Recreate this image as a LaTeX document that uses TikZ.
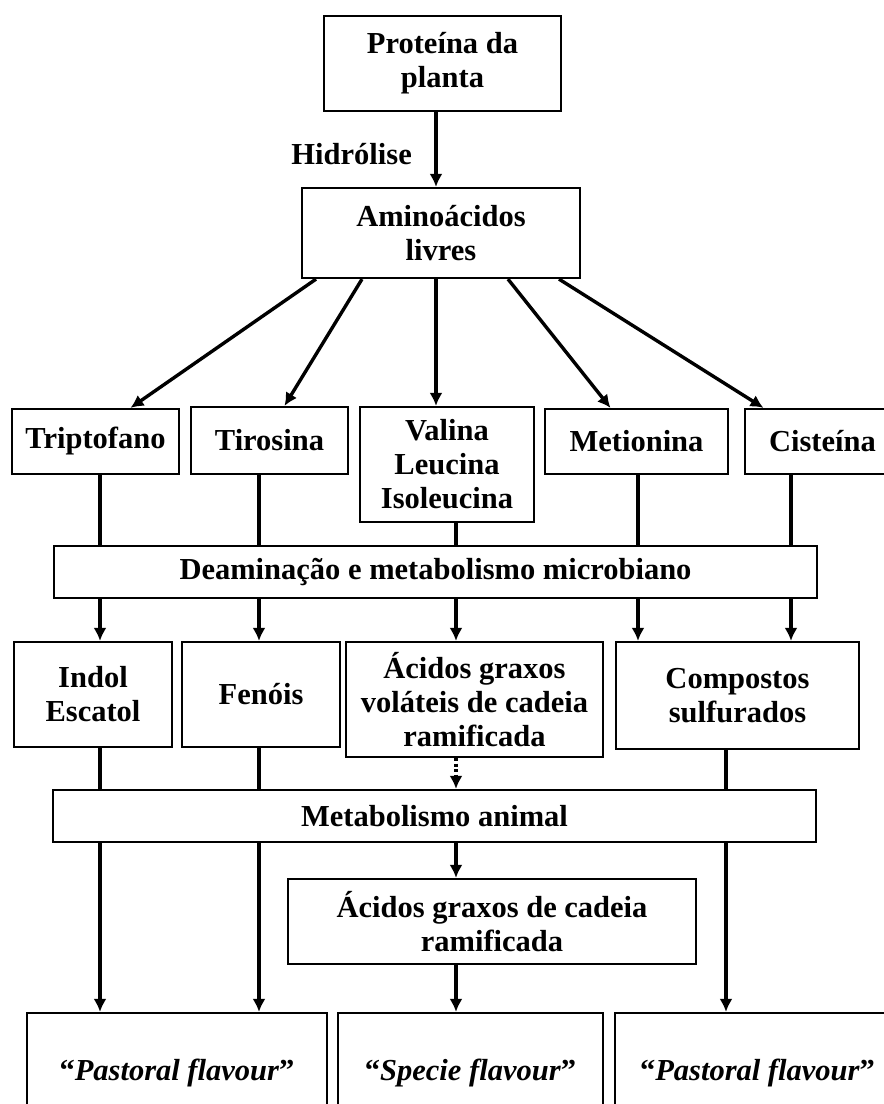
\documentclass[tikz,border=0pt]{standalone}
\usepackage{fontspec}
\setmainfont{Liberation Serif}
\usetikzlibrary{arrows.meta}

\tikzset{
  caixa/.style={draw, line width=2.2pt, inner sep=0pt, align=center,
    font=\bfseries\fontsize{30.5}{34}\selectfont},
  rotulo/.style={inner sep=0pt, font=\bfseries\fontsize{30.5}{34}\selectfont},
  seta/.style={line width=3.4pt, -{Latex[length=13pt,width=13pt]}},
  linha/.style={line width=3.4pt},
  pontilhada/.style={seta, dash pattern=on 3pt off 2.5pt},
}

\begin{document}
\begin{tikzpicture}[x=1pt,y=-1pt]
    \clip (0,0) rectangle (884,1104);
    %caixas de cima
    \node[caixa, minimum width=237, minimum height=95] (prot) at (442.5,63.5) {Proteína da\\planta};
    \node[caixa, minimum width=278, minimum height=90] (amino) at (441,233) {Aminoácidos\\livres};
    \node[rotulo, anchor=east] (hidro) at (412,154) {Hidrólise};
    %aminoacidos
    \node[caixa, minimum width=167, minimum height=65] (trip) at (95.5,441.5) {Triptofano};
    \node[caixa, minimum width=157, minimum height=67] (tiro) at (269.5,440.5) {Tirosina};
    \node[caixa, minimum width=174, minimum height=115] (vali) at (447,464.5) {Valina\\Leucina\\Isoleucina};
    \node[caixa, minimum width=183, minimum height=65] (meti) at (636.5,441.5) {Metionina};
    \node[caixa, minimum width=155, minimum height=65, text width=130] (cist) at (822.5,441.5) {Cisteína};
    \node[caixa, minimum width=763, minimum height=52] (deam) at (435.5,572) {Deaminação e metabolismo microbiano};
    %produtos
    \node[caixa, minimum width=158, minimum height=105] (indol) at (93,694.5) {Indol\\Escatol};
    \node[caixa, minimum width=158, minimum height=105] (feno) at (261,694.5) {Fenóis};
    \node[caixa, minimum width=257, minimum height=115] (volat) at (474.5,699.5) {Ácidos graxos\\voláteis de cadeia\\ramificada};
    \node[caixa, minimum width=243, minimum height=107] (comp) at (737.5,695.5) {Compostos\\sulfurados};
    \node[caixa, minimum width=763, minimum height=52] (metab) at (434.5,816) {Metabolismo animal};
    \node[caixa, minimum width=408, minimum height=85] (cade) at (492,921.5) {Ácidos graxos de cadeia\\ramificada};
    %sabores
    \node[caixa, minimum width=300, minimum height=120] (past1) at (177,1073) {“\textit{Pastoral flavour}”};
    \node[caixa, minimum width=265, minimum height=120] (spec) at (470.5,1073) {“\textit{Specie flavour}”};
    \node[caixa, minimum width=285, minimum height=120] (past2) at (757.5,1073) {“\textit{Pastoral flavour}”};
    %colunas das linhas
    \coordinate (ca) at (100,0);
    \coordinate (cb) at (259,0);
    \coordinate (cc) at (456,0);
    \coordinate (cd) at (638,0);
    \coordinate (ce) at (791,0);
    \coordinate (cf) at (726,0);
    \coordinate (ch) at (436,0);
    %setas de cima
    \draw[seta] (prot.south -| ch) -- (amino.north -| ch);
    \draw[seta] ([xshift=-125]amino.south) -- ([xshift=35]trip.north);
    \draw[seta] ([xshift=-79]amino.south) -- ([xshift=15]tiro.north);
    \draw[seta] ([xshift=-5]amino.south) -- ([xshift=-11]vali.north);
    \draw[seta] ([xshift=67]amino.south) -- ([xshift=-26]meti.north);
    \draw[seta] ([xshift=118]amino.south) -- ([xshift=-59]cist.north);
    %deaminacao
    \foreach \a/\c in {trip/ca, tiro/cb, vali/cc, meti/cd, cist/ce}
        \draw[linha] (\a.south -| \c) -- (deam.north -| \c);
    \foreach \b/\c in {indol/ca, feno/cb, volat/cc, comp/cd, comp/ce}
        \draw[seta] (deam.south -| \c) -- (\b.north -| \c);
    %metabolismo animal
    \foreach \a/\c in {indol/ca, feno/cb, comp/cf}
        \draw[linha] (\a.south -| \c) -- (metab.north -| \c);
    \draw[pontilhada] (volat.south -| cc) -- (metab.north -| cc);
    \foreach \b/\c in {past1/ca, past1/cb, past2/cf}
        \draw[seta] (metab.south -| \c) -- (\b.north -| \c);
    \draw[seta] (metab.south -| cc) -- (cade.north -| cc);
    \draw[seta] (cade.south -| cc) -- (spec.north -| cc);
\end{tikzpicture}
\end{document}
